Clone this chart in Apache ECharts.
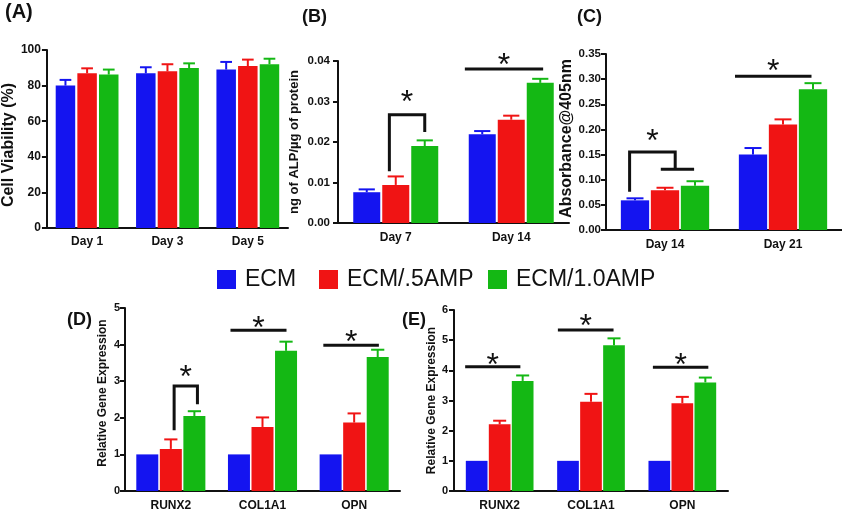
<!DOCTYPE html>
<html>
<head>
<meta charset="utf-8">
<script src="https://cdn.jsdelivr.net/npm/echarts@6/dist/echarts.min.js"></script>
<style>
html, body { margin: 0; padding: 0; background: #fff; }
#chart { width: 842px; height: 513px; }
</style>
</head>
<body>
<div id="chart"></div>
<script>
const FONT = '"Liberation Sans", Arial, Helvetica, sans-serif'
const COLORS = ['#1414f0', '#f01414', '#14b814']
const groupNames = ['ECM', 'ECM/.5AMP', 'ECM/1.0AMP']

// (A) cell viability
const daysA = ['Day 1', 'Day 3', 'Day 5']
const ecmA = [80, 86.9, 89]
const ampHalfA = [86.9, 88, 91]
const ampOneA = [86.2, 89.9, 92]
const ecmSdA = [3.2, 3.4, 4.3]
const ampHalfSdA = [2.8, 4, 3.6]
const ampOneSdA = [2.8, 2.6, 3.1]

// (B) ALP
const daysB = ['Day 7', 'Day 14']
const ecmB = [0.0076, 0.0219]
const ampHalfB = [0.0094, 0.0255]
const ampOneB = [0.019, 0.0346]
const ecmSdB = [0.0007, 0.0008]
const ampHalfSdB = [0.0021, 0.001]
const ampOneSdB = [0.0014, 0.001]

// (C) absorbance
const daysC = ['Day 14', 'Day 21']
const ecmC = [0.059, 0.15]
const ampHalfC = [0.079, 0.21]
const ampOneC = [0.088, 0.28]
const ecmSdC = [0.004, 0.013]
const ampHalfSdC = [0.005, 0.01]
const ampOneSdC = [0.009, 0.012]

// (D) gene expression
const genes = ['RUNX2', 'COL1A1', 'OPN']
const ecmD = [1, 1, 1]
const ampHalfD = [1.15, 1.75, 1.87]
const ampOneD = [2.05, 3.83, 3.66]
const ampHalfSdD = [0.26, 0.26, 0.25]
const ampOneSdD = [0.13, 0.25, 0.2]

// (E) gene expression
const ecmE = [1, 1, 1]
const ampHalfE = [2.21, 2.96, 2.91]
const ampOneE = [3.65, 4.83, 3.6]
const ampHalfSdE = [0.12, 0.26, 0.21]
const ampOneSdE = [0.18, 0.23, 0.16]

// significance marks: [category, from bar, to bar, y, left leg end, right leg end, star y, sub from, sub to]
const sigA = []
const sigB = [
	[0, 0.78, 2, 0.0267, 0.0128, 0.0225, 0.0316],
	[1, -0.6, 2.1, 0.038, null, null, 0.0405]
]
const sigC = [
	[0, -0.18, 1.34, 0.155, 0.076, 0.121, 0.19, 0.86, 1.97],
	[1, -0.6, 1.95, 0.306, null, null, 0.33]
]
const sigD = [
	[0, 1.14, 2.13, 2.87, 1.66, 2.37, 3.3],
	[1, -0.36, 2.02, 4.39, null, null, 4.62],
	[2, -0.31, 2.05, 3.98, null, null, 4.25]
]
const sigE = [
	[0, -0.5, 1.9, 4.12, null, null, 4.4],
	[1, -0.44, 1.98, 5.34, null, null, 5.67],
	[2, -0.28, 2.13, 4.1, null, null, 4.4]
]

const panels = [
	{
		label: '(A)', labelPos: [5, 2], labelSize: 20,
		cats: daysA, means: [ecmA, ampHalfA, ampOneA], sds: [ecmSdA, ampHalfSdA, ampOneSdA], sig: sigA,
		grid: { left: 38, top: 50, width: 250, height: 178 },
		min: 0, max: 100, interval: 20, dec: 0,
		name: 'Cell Viability (%)', nameSize: 16, nameGap: 16, namePad: [0, 12, 0, 0],
		bw: 19.5, gap: 0.11, fs: 12, xfs: 12, labelMargin: 6, xMargin: 8
	},
	{
		label: '(B)', labelPos: [302, 8], labelSize: 18,
		cats: daysB, means: [ecmB, ampHalfB, ampOneB], sds: [ecmSdB, ampHalfSdB, ampOneSdB], sig: sigB,
		grid: { left: 338, top: 61, width: 231, height: 162 },
		min: 0, max: 0.04, interval: 0.01, dec: 2,
		name: 'ng of ALP/µg of protein', nameSize: 13, nameGap: 37, namePad: [0, 0, 0, 0],
		bw: 27, gap: 0.074, fs: 11.5, xfs: 12, labelMargin: 8, xMargin: 9
	},
	{
		label: '(C)', labelPos: [577, 8], labelSize: 18,
		cats: daysC, means: [ecmC, ampHalfC, ampOneC], sds: [ecmSdC, ampHalfSdC, ampOneSdC], sig: sigC,
		grid: { left: 606, top: 54, width: 236, height: 176 },
		min: 0, max: 0.35, interval: 0.05, dec: 2,
		name: 'Absorbance@405nm', nameSize: 16, nameGap: 31, namePad: [0, 0, 0, 7],
		bw: 28.3, gap: 0.06, fs: 11.5, xfs: 12, labelMargin: 5, xMargin: 9
	},
	{
		label: '(D)', labelPos: [67, 311], labelSize: 18,
		cats: genes, means: [ecmD, ampHalfD, ampOneD], sds: [null, ampHalfSdD, ampOneSdD], sig: sigD,
		grid: { left: 125, top: 308, width: 275, height: 183 },
		min: 0, max: 5, interval: 1, dec: 0,
		name: 'Relative Gene Expression', nameSize: 12, nameGap: 16, namePad: [0, 0, 0, 13],
		bw: 22, gap: 0.07, fs: 11, xfs: 12, labelMargin: 5, xMargin: 9
	},
	{
		label: '(E)', labelPos: [402, 311], labelSize: 18,
		cats: genes, means: [ecmE, ampHalfE, ampOneE], sds: [null, ampHalfSdE, ampOneSdE], sig: sigE,
		grid: { left: 454, top: 310, width: 274, height: 181 },
		min: 0, max: 6, interval: 1, dec: 0,
		name: 'Relative Gene Expression', nameSize: 12, nameGap: 16, namePad: [0, 0, 0, 0],
		bw: 21.7, gap: 0.06, fs: 11, xfs: 12, labelMargin: 6, xMargin: 9
	}
]

const axisLine = { lineStyle: { color: '#111', width: 2 } }
const axisTick = { length: 5, lineStyle: { color: '#111', width: 2 } }

const grids = []
const xAxes = []
const yAxes = []
const series = []
const titles = []

panels.forEach((p, i) => {
	grids.push(p.grid)
	titles.push({
		text: p.label, left: p.labelPos[0], top: p.labelPos[1], padding: 0,
		textStyle: { fontFamily: FONT, fontWeight: 'bold', fontSize: p.labelSize, color: '#111' }
	})
	xAxes.push({
		type: 'category', gridIndex: i, data: p.cats,
		axisLine, axisTick: { ...axisTick, alignWithLabel: true },
		axisLabel: { fontFamily: FONT, fontWeight: 'bold', fontSize: p.xfs, color: '#111', margin: p.xMargin }
	})
	yAxes.push({
		type: 'value', gridIndex: i, min: p.min, max: p.max, interval: p.interval,
		splitLine: { show: false },
		axisLine: { show: true, ...axisLine }, axisTick: { show: true, ...axisTick },
		axisLabel: {
			fontFamily: FONT, fontWeight: 'bold', fontSize: p.fs, color: '#111', margin: p.labelMargin,
			formatter: (v) => v.toFixed(p.dec)
		},
		name: p.name, nameLocation: 'middle', nameGap: p.nameGap,
		nameTextStyle: { fontFamily: FONT, fontWeight: 'bold', fontSize: p.nameSize, color: '#111', padding: p.namePad }
	})

	p.means.forEach((vals, g) => {
		series.push({
			type: 'bar', name: groupNames[g], xAxisIndex: i, yAxisIndex: i,
			data: vals, barWidth: p.bw, barGap: p.gap * 100 + '%',
			itemStyle: { color: COLORS[g] }, emphasis: { disabled: true }, z: 2
		})
	})

	// error bars, upper side only
	const errData = []
	p.sds.forEach((sd, g) => {
		if (!sd) return
		sd.forEach((s, c) => errData.push([c, g, p.means[g][c], p.means[g][c] + s]))
	})
	const pitch = p.bw * (1 + p.gap)
	series.push({
		type: 'custom', xAxisIndex: i, yAxisIndex: i, z: 3, silent: true,
		data: errData,
		encode: { x: 0, y: 3 },
		renderItem: (params, api) => {
			const c = api.value(0), g = api.value(1)
			const lo = api.coord([c, api.value(2)])
			const hi = api.coord([c, api.value(3)])
			const x = lo[0] + (g - 1) * pitch
			const cap = p.bw * 0.3
			const style = { stroke: COLORS[g], lineWidth: 2, fill: null }
			return {
				type: 'group',
				children: [
					{ type: 'line', shape: { x1: x, y1: lo[1], x2: x, y2: hi[1] }, style },
					{ type: 'line', shape: { x1: x - cap, y1: hi[1], x2: x + cap, y2: hi[1] }, style }
				]
			}
		}
	})

	// significance lines and brackets
	if (p.sig.length) {
		series.push({
			type: 'custom', xAxisIndex: i, yAxisIndex: i, z: 4, silent: true,
			data: p.sig.map((s) => [s[0], s[3]]),
			encode: { x: 0, y: 1 },
			renderItem: (params, api) => {
				const s = p.sig[params.dataIndex]
				const bx = (k) => api.coord([s[0], 0])[0] + (k - 1) * pitch
				const by = (v) => api.coord([s[0], v])[1]
				const style = { stroke: '#111', lineWidth: 3, fill: null, lineCap: 'butt' }
				const pts = []
				if (s[4] != null) pts.push([bx(s[1]), by(s[4])])
				pts.push([bx(s[1]), by(s[3])])
				pts.push([bx(s[2]), by(s[3])])
				if (s[5] != null) pts.push([bx(s[2]), by(s[5])])
				const kids = [{ type: 'polyline', shape: { points: pts }, style: { ...style, lineJoin: 'miter' } }]
				if (s[7] != null) {
					kids.push({ type: 'line', shape: { x1: bx(s[7]), y1: by(s[5]), x2: bx(s[8]), y2: by(s[5]) }, style })
				}
				const fs = 32
				kids.push({
					type: 'text',
					style: {
						text: '*', x: (bx(s[1]) + bx(s[2])) / 2, y: by(s[6]) + fs * 0.24,
						font: 'normal ' + fs + 'px ' + FONT, fill: '#111', align: 'center', verticalAlign: 'middle'
					}
				})
				return { type: 'group', children: kids }
			}
		})
	}
})

const legendLeft = [217, 319, 488]
const legends = groupNames.map((n, g) => ({
	data: [n], left: legendLeft[g], top: 268, padding: 0,
	icon: 'rect', itemWidth: 19, itemHeight: 19, selectedMode: false,
	textStyle: { fontFamily: FONT, fontSize: 23, color: '#111', padding: [0, 0, 0, 4], lineHeight: 19 }
}))

const chart = echarts.init(document.getElementById('chart'))
chart.setOption({
	animation: false,
	backgroundColor: '#fff',
	title: titles,
	legend: legends,
	grid: grids,
	xAxis: xAxes,
	yAxis: yAxes,
	series
})
</script>
</body>
</html>
